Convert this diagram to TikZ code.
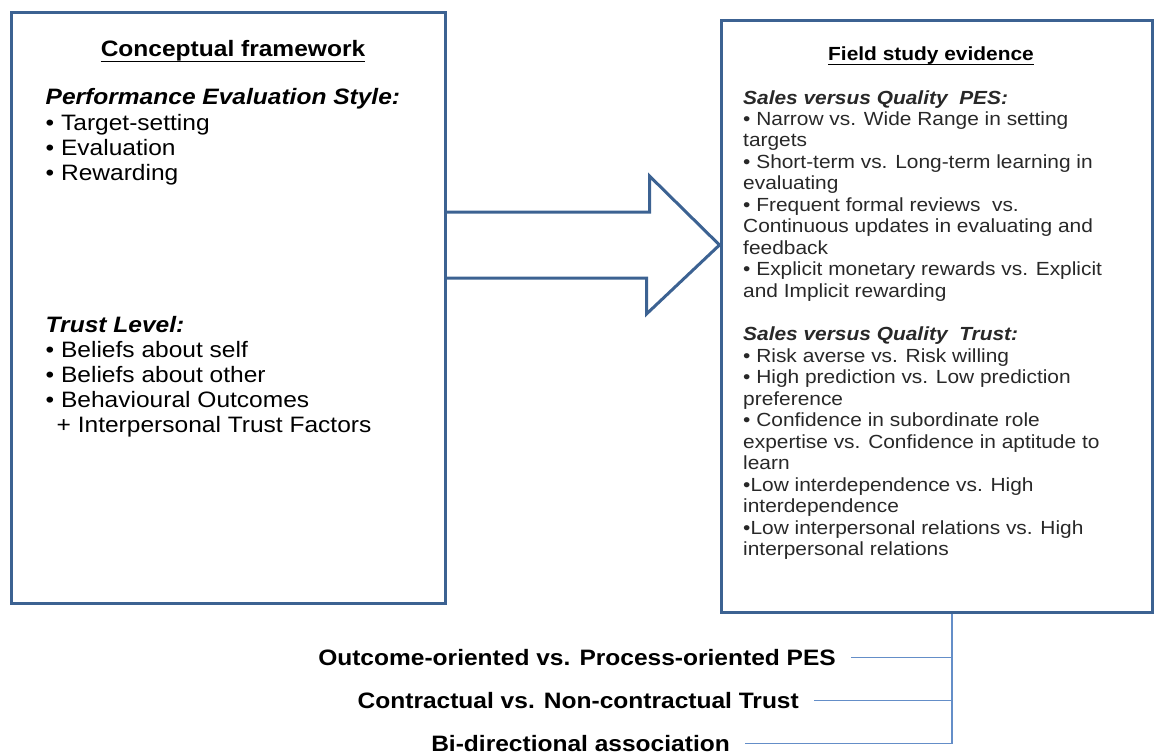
\documentclass[tikz,border=0pt]{standalone}
\usepackage{fontspec}
\setmainfont{Liberation Sans}[FakeStretch=1.1]
\usetikzlibrary{calc}
\definecolor{frameblue}{RGB}{60,98,146}
\definecolor{linkblue}{RGB}{100,142,200}
\definecolor{bodytext}{RGB}{40,40,40}

\begin{document}
\begin{tikzpicture}[x=1pt,y=-1pt,
  panel/.style={draw=frameblue, line width=3pt, inner sep=0pt},
  bigtxt/.style={font=\fontsize{22.3}{25}\selectfont, anchor=base west, inner sep=0pt},
  bighead/.style={bigtxt, font=\fontsize{22.3}{25}\selectfont\bfseries\itshape},
  smalltxt/.style={font=\fontsize{19}{21.5}\selectfont, text=bodytext, anchor=base west, inner sep=0pt},
  smallhead/.style={smalltxt, font=\fontsize{19}{21.5}\selectfont\bfseries\itshape},
  boxtitle/.style={anchor=base, inner sep=0pt},
  bottxt/.style={font=\fontsize{22.3}{25}\selectfont\bfseries, anchor=east,
                 inner sep=0pt, text height=16pt, text depth=0pt},
  link/.style={draw=linkblue, line width=1.6pt},
  bigarrow/.style={draw=frameblue, line width=3pt, line join=miter}
]
\useasboundingbox (0,0) rectangle (1154,755);

% the two panels
\node[panel, minimum width=434pt, minimum height=591pt] (cf) at (228,307.5) {};
\node[panel, minimum width=431pt, minimum height=592pt] (fe) at (936.5,316) {};

% block arrow from the framework panel to the evidence panel
\coordinate (tip) at (fe.west |- 0,245);
\coordinate (tail) at (cf.east |- tip);
\draw[bigarrow] ($(tail)+(0,-33)$) -- ++(203,0) -- ++(0,-36) -- (tip)
  -- ($(tip)+(-73,69)$) -- ++(0,-36) -- ($(tail)+(0,33)$);

% left panel
\node[boxtitle, font=\fontsize{22.3}{25}\selectfont\bfseries] (cft) at (233,56.5) {Conceptual framework};
\draw[line width=1.4pt] (cft.south west) -- (cft.south east);

\node[bighead] (pesh) at (45.5,104.5) {Performance Evaluation Style:};
\foreach \t [count=\i from 0] in {Target-setting, Evaluation, Rewarding}
  \node[bigtxt] (pes\i) at (45.5,{130+25*\i}) {• \t};

\node[bighead] (trh) at (45.5,332) {Trust Level:};
\foreach \t [count=\i from 0] in {Beliefs about self, Beliefs about other, Behavioural Outcomes}
  \node[bigtxt] (tr\i) at (45.5,{357+25*\i}) {• \t};
\node[bigtxt] (trx) at (56.5,432.5) {+ Interpersonal Trust Factors};

% right panel
\node[boxtitle, font=\fontsize{19}{21.5}\selectfont\bfseries] (fet) at (931,60) {Field study evidence};
\draw[line width=1.2pt] (fet.south west) -- (fet.south east);

\node[smallhead] (sqp) at (743,104) {Sales versus Quality~~PES:};
\foreach \t [count=\i from 0] in {
    • Narrow vs. Wide Range in setting,
    targets,
    • Short-term vs. Long-term learning in,
    evaluating,
    • Frequent formal reviews~~vs.,
    Continuous updates in evaluating and,
    feedback,
    • Explicit monetary rewards vs. Explicit,
    and Implicit rewarding}
  \node[smalltxt] (sqp\i) at (743,{125+21.5*\i}) {\t};

\node[smallhead] (sqt) at (743,340.5) {Sales versus Quality~~Trust:};
\foreach \t [count=\i from 0] in {
    • Risk averse vs. Risk willing,
    • High prediction vs. Low prediction,
    preference,
    • Confidence in subordinate role,
    expertise vs. Confidence in aptitude to,
    learn,
    •Low interdependence vs. High,
    interdependence,
    •Low interpersonal relations vs. High,
    interpersonal relations}
  \node[smalltxt] (sqt\i) at (743,{362+21.5*\i}) {\t};

% legend labels below the panels
\node[bottxt] (l1) at (836,657.5) {Outcome-oriented vs. Process-oriented PES};
\node[bottxt] (l2) at (799,700.5) {Contractual vs. Non-contractual Trust};
\node[bottxt] (l3) at (730,743.5) {Bi-directional association};

% bracket joining the labels to the evidence panel
\coordinate (sp0) at ([xshift=15.5pt]fe.south);
\coordinate (sp1) at (sp0 |- l3.east);
\draw[link] (sp0) -- (sp1);
\foreach \k in {1,2,3}
  \draw[link] ([xshift=15pt]l\k.east) -- (sp0 |- l\k.east);
\end{tikzpicture}
\end{document}
